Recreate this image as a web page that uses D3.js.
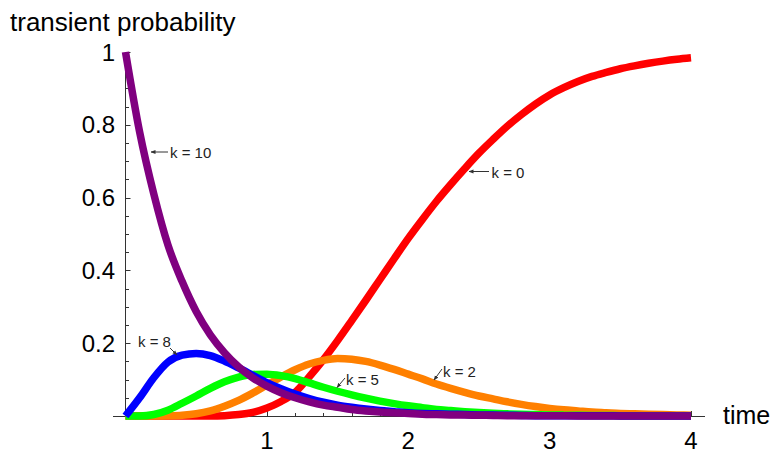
<!DOCTYPE html>
<html>
<head>
<meta charset="utf-8">
<script src="https://cdn.jsdelivr.net/npm/d3@7"></script>
<style>
  html, body { margin: 0; padding: 0; background: #fff; }
  svg { display: block; }
  text { font-family: "Liberation Sans", Arial, Helvetica, sans-serif; }
</style>
</head>
<body>
<svg id="chart" width="774" height="455"></svg>
<script>
// ---- data ----
const times = [0,0.1,0.2,0.3,0.4,0.5,0.6,0.7,0.8,0.9,1.0,1.1,1.2,1.3,1.4,1.5,1.6,1.7,1.8,1.9,2.0,
               2.1,2.2,2.3,2.4,2.5,2.6,2.7,2.8,2.9,3.0,3.1,3.2,3.3,3.4,3.5,3.6,3.7,3.8,3.9,4.0];

const k0 = [0,0,0,0,0,0,0,0.001,0.004,0.01,0.022,0.04,0.065,0.108,0.155,0.207,0.262,0.318,0.375,0.432,0.488,
            0.54,0.59,0.636,0.68,0.722,0.76,0.796,0.828,0.857,0.882,0.902,0.919,0.933,0.944,0.954,0.962,0.969,0.975,0.98,0.984];
const k2 = [0,0,0,0.0005,0.002,0.006,0.014,0.027,0.043,0.063,0.085,0.107,0.127,0.143,0.153,0.158,0.156,0.15,0.14,0.128,0.115,
            0.102,0.088,0.076,0.065,0.055,0.047,0.039,0.032,0.026,0.021,0.017,0.014,0.011,0.009,0.007,0.006,0.005,0.004,0.003,0.002];
const k5 = [0,0,0.004,0.016,0.035,0.055,0.076,0.094,0.107,0.114,0.115,0.111,0.103,0.091,0.079,0.068,0.058,0.049,0.041,0.034,0.028,
            0.023,0.018,0.015,0.012,0.0095,0.0075,0.006,0.0048,0.0038,0.003,0.0024,0.0019,0.0015,0.0012,0.001,0.0008,0.0006,0.0005,0.0004,0.0003];
const k8 = [0,0.05,0.105,0.148,0.167,0.172,0.166,0.151,0.132,0.112,0.092,0.075,0.06,0.048,0.038,0.03,0.024,0.019,0.015,0.012,0.009,
            0.007,0.006,0.005,0.004,0.003,0.0025,0.002,0.0015,0.001,0.001,0.0008,0.0006,0.0005,0.0004,0.0003,0.0002,0.0002,0.0001,0.0001,0];
const k10 = [1,0.78,0.61,0.47,0.37,0.287,0.223,0.174,0.135,0.105,0.082,0.064,0.05,0.039,0.03,0.024,0.018,0.014,0.011,0.009,0.007,
             0.005,0.004,0.003,0.0025,0.002,0.0015,0.001,0.001,0.0007,0.0005,0.0004,0.0003,0.0003,0.0002,0.0002,0.0001,0.0001,0.0001,0.0001,0];

const seriesNames = ["k=0","k=2","k=5","k=8","k=10"];
const seriesColors = ["#ff0000","#ff8000","#00ff00","#0000ff","#800080"];
const xTickValues = [1,2,3,4];
const yTickValues = [0.2,0.4,0.6,0.8,1];
const yTickLabels = ["0.2","0.4","0.6","0.8","1"];
const xLabel = "time";
const yLabel = "transient probability";
const annotations = [
  {name:"k=10", text:"k = 10"},
  {name:"k=0",  text:"k = 0"},
  {name:"k=8",  text:"k = 8"},
  {name:"k=5",  text:"k = 5"},
  {name:"k=2",  text:"k = 2"}
];

// ---- chart ----
const svg = d3.select("#chart");
const x = d3.scaleLinear().domain([0, 4]).range([125.5, 691]);
const y = d3.scaleLinear().domain([0, 1]).range([416, 52]);
const axisColor = "#333";

svg.append("line")
  .attr("x1", x(-0.09)).attr("x2", x(4.1))
  .attr("y1", y(0)).attr("y2", y(0))
  .attr("stroke", axisColor).attr("stroke-width", 1).attr("shape-rendering","crispEdges");
svg.append("line")
  .attr("x1", x(0)).attr("x2", x(0))
  .attr("y1", y(0)).attr("y2", y(1))
  .attr("stroke", axisColor).attr("stroke-width", 1).attr("shape-rendering","crispEdges");

const xMinor = d3.range(1, 21).map(i => i * 0.2);
svg.append("g").selectAll("line").data(xMinor).join("line")
  .attr("x1", d => Math.round(x(d)) + 0.5).attr("x2", d => Math.round(x(d)) + 0.5)
  .attr("y1", y(0)).attr("y2", d => y(0) - (Math.abs(d - Math.round(d)) < 1e-6 ? 5 : 3))
  .attr("stroke", axisColor).attr("stroke-width", 1);

const yMinor = d3.range(1, 21).map(i => i * 0.05);
svg.append("g").selectAll("line").data(yMinor).join("line")
  .attr("x1", x(0)).attr("x2", d => x(0) + (Math.abs(d*5 - Math.round(d*5)) < 1e-6 ? 5 : 3.5))
  .attr("y1", d => Math.round(y(d)) + 0.5).attr("y2", d => Math.round(y(d)) + 0.5)
  .attr("stroke", axisColor).attr("stroke-width", 1);

svg.append("g").selectAll("text").data(xTickValues).join("text")
  .attr("x", d => x(d)).attr("y", 449)
  .attr("text-anchor", "middle")
  .attr("font-size", 24).attr("fill", "#000")
  .text(d => d);

svg.append("g").selectAll("text").data(yTickValues).join("text")
  .attr("x", 115).attr("y", d => y(d) + 8.5)
  .attr("text-anchor", "end")
  .attr("font-size", 24).attr("fill", "#000")
  .text((d, i) => yTickLabels[i]);

svg.append("text").attr("x", 10).attr("y", 31).attr("font-size", 26).attr("fill", "#000").text(yLabel);
svg.append("text").attr("x", 723).attr("y", 424).attr("font-size", 25).attr("fill", "#000").text(xLabel);

const allSeries = [k0, k2, k5, k8, k10];
const line = d3.line()
  .x((d, i) => x(times[i]))
  .y(d => y(d))
  .curve(d3.curveMonotoneX);

svg.append("g").selectAll("path").data(allSeries).join("path")
  .attr("d", d => line(d))
  .attr("fill", "none")
  .attr("stroke", (d, i) => seriesColors[i])
  .attr("stroke-width", 7.5)
  .attr("stroke-linejoin", "round")
  .attr("stroke-linecap", "butt");

svg.append("defs").append("marker")
  .attr("id", "arr").attr("viewBox", "0 0 10 10").attr("refX", 9).attr("refY", 5)
  .attr("markerWidth", 5).attr("markerHeight", 5).attr("orient", "auto-start-reverse")
  .append("path").attr("d", "M0,1 L10,5 L0,9 z").attr("fill", "#333");

const annPos = {
  "k=10": {tx:170, ty:158, ax1:168, ay1:152, ax2:151, ay2:152},
  "k=0":  {tx:491.5, ty:177.5, ax1:489, ay1:171.5, ax2:469, ay2:171.5},
  "k=8":  {tx:138, ty:347, ax1:170, ay1:348, ax2:177, ay2:355},
  "k=5":  {tx:346, ty:385, ax1:345, ay1:378, ax2:337, ay2:387.5},
  "k=2":  {tx:443, ty:376.5, ax1:442, ay1:369, ax2:434, ay2:380}
};
const ann = svg.append("g");
annotations.forEach(a => {
  const p = annPos[a.name];
  ann.append("line")
    .attr("x1", p.ax1).attr("y1", p.ay1).attr("x2", p.ax2).attr("y2", p.ay2)
    .attr("stroke", "#333").attr("stroke-width", 1).attr("marker-end", "url(#arr)");
  ann.append("text").attr("x", p.tx).attr("y", p.ty)
    .attr("font-size", 15).attr("fill", "#222").text(a.text);
});
</script>
</body>
</html>
